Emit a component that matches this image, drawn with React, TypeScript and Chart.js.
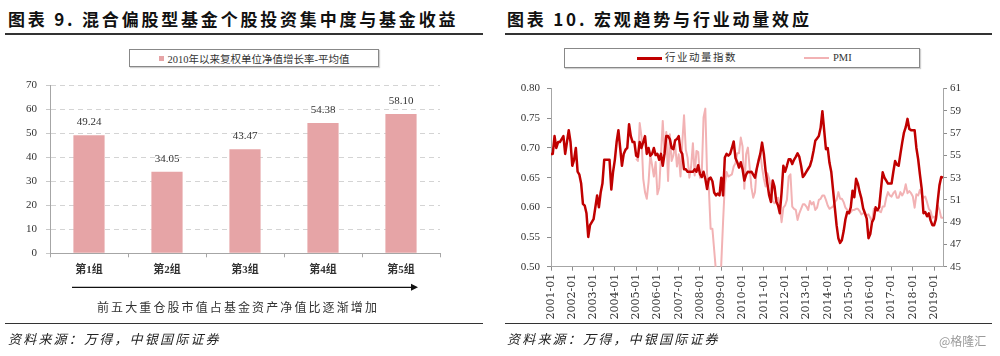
import React, { useEffect, useRef } from 'react';
import { Chart, registerables } from 'chart.js';

Chart.register(...registerables);

// ---------- Left chart data ----------
const groupLabels = ['第1组', '第2组', '第3组', '第4组', '第5组'];
const groupValues = [49.24, 34.05, 43.47, 54.38, 58.10];
const barSeriesName = '2010年以来复权单位净值增长率-平均值';
const barAxisMin = 0;
const barAxisMax = 70;
const barAxisStep = 10;

// ---------- Right chart data ----------
const startYear = 2001;
const endYear = 2019;
const lastMonthOfEndYear = 6;
const monthLabels: string[] = [];
for (let y = startYear; y <= endYear; y++) {
  const lastM = y === endYear ? lastMonthOfEndYear : 12;
  for (let m = 1; m <= lastM; m++) monthLabels.push(`${y}-${m < 10 ? '0' + m : m}`);
}

const momentumName = '行业动量指数';
const momentum = [
  0.69, 0.69, 0.72, 0.70, 0.71, 0.71, 0.715, 0.72, 0.69, 0.71, 0.73, 0.71,
  0.67, 0.68, 0.70, 0.66, 0.655, 0.64, 0.606, 0.603, 0.59, 0.55, 0.57, 0.575,
  0.58, 0.60, 0.62, 0.60, 0.625, 0.64, 0.68, 0.68, 0.68, 0.68, 0.63, 0.66,
  0.68, 0.71, 0.73, 0.70, 0.67, 0.69, 0.697, 0.70, 0.74, 0.72, 0.71, 0.71,
  0.687, 0.685, 0.71, 0.70, 0.71, 0.72, 0.69, 0.70, 0.687, 0.69, 0.70, 0.688,
  0.69, 0.68, 0.69, 0.67, 0.69, 0.72, 0.72, 0.715, 0.70, 0.698, 0.713, 0.715,
  0.72, 0.695, 0.69, 0.664, 0.664, 0.66, 0.66, 0.66, 0.66, 0.664, 0.66, 0.671,
  0.656, 0.651, 0.66, 0.648, 0.631, 0.648, 0.65, 0.644, 0.625, 0.62, 0.623, 0.62,
  0.65, 0.62, 0.684, 0.69, 0.687, 0.69, 0.70, 0.711, 0.683, 0.676, 0.667, 0.676,
  0.664, 0.645, 0.655, 0.66, 0.659, 0.66, 0.655, 0.65, 0.665, 0.678, 0.69, 0.709,
  0.69, 0.661, 0.64, 0.62, 0.609, 0.645, 0.635, 0.61, 0.603, 0.59, 0.625, 0.67,
  0.66, 0.67, 0.681, 0.681, 0.673, 0.68, 0.685, 0.691, 0.685, 0.67, 0.651, 0.655,
  0.66, 0.665, 0.67, 0.68, 0.695, 0.712, 0.716, 0.72, 0.734, 0.762, 0.73, 0.698,
  0.70, 0.675, 0.66, 0.63, 0.60, 0.57, 0.548, 0.54, 0.545, 0.56, 0.58, 0.592,
  0.59, 0.60, 0.628, 0.617, 0.648, 0.64, 0.626, 0.615, 0.598, 0.59, 0.581, 0.548,
  0.555, 0.575, 0.581, 0.60, 0.595, 0.60, 0.63, 0.659, 0.65, 0.645, 0.64, 0.64,
  0.64, 0.66, 0.678, 0.672, 0.67, 0.69, 0.709, 0.726, 0.735, 0.749, 0.732, 0.73,
  0.73, 0.73, 0.70, 0.681, 0.655, 0.631, 0.59, 0.592, 0.585, 0.59, 0.578, 0.57,
  0.57, 0.58, 0.61, 0.637, 0.651, 0.65,
];

const pmiName = 'PMI';
const pmiMissingMonths = 48; // series begins 2005-01
const pmi: (number | null)[] = [
  ...new Array(pmiMissingMonths).fill(null),
  54.7, 54.5, 57.9, 56.7, 52.9, 51.7, 51.1, 52.6, 55.1, 54.1, 53.1, 54.4,
  51.5, 52.1, 55.0, 58.1, 55.1, 57.1, 52.7, 56.9, 54.5, 55.0, 56.0, 54.0,
  55.1, 53.1, 56.1, 58.6, 55.5, 54.8, 53.0, 54.0, 56.1, 53.2, 55.4, 55.3,
  53.0, 53.4, 58.4, 59.2, 53.3, 52.0, 48.4, 48.4, 46.5, 44.6, 38.8, 41.2,
  45.3, 49.0, 52.4, 53.5, 53.1, 53.2, 53.3, 54.0, 54.3, 55.2, 55.2, 56.6,
  55.8, 52.0, 55.1, 55.7, 53.9, 52.1, 51.2, 51.7, 53.8, 54.7, 55.2, 53.9,
  52.9, 52.2, 53.4, 52.9, 52.0, 50.9, 50.7, 50.9, 51.2, 50.4, 49.0, 50.3,
  50.5, 51.0, 53.1, 53.3, 50.4, 50.2, 50.1, 49.2, 49.8, 50.2, 50.6, 50.6,
  50.4, 50.1, 50.9, 50.6, 50.8, 50.1, 50.3, 51.0, 51.1, 51.4, 51.4, 51.0,
  50.5, 50.2, 50.3, 50.4, 50.8, 51.0, 51.7, 51.1, 51.1, 50.8, 50.3, 50.1,
  49.8, 49.9, 50.1, 50.1, 50.2, 50.2, 50.0, 49.7, 49.8, 49.8, 49.6, 49.7,
  49.4, 49.0, 50.2, 50.1, 50.1, 50.0, 49.9, 50.4, 50.4, 51.2, 51.7, 51.4,
  51.3, 51.6, 51.8, 51.2, 51.2, 51.7, 51.4, 51.7, 52.4, 51.6, 51.8, 51.6,
  51.3, 50.3, 51.5, 51.4, 51.9, 51.5, 51.2, 51.3, 50.8, 50.2, 50.0, 49.4,
  49.5, 49.2, 50.5, 50.1, 49.4, 49.4,
];
const leftAxisMin = 0.5;
const leftAxisMax = 0.8;
const leftAxisStep = 0.05;
const rightAxisMin = 45;
const rightAxisMax = 61;
const rightAxisStep = 2;

// ---------- styles ----------
const BAR_COLOR = '#E6A4A6';
const RED = '#C00000';
const PINK = '#F2B2B4';
const SERIF = '"Liberation Serif", "Noto Sans CJK SC", serif';
const CJK = '"Noto Sans CJK SC", sans-serif';
const AXIS_GREY = '#a6a6a6';

const barValueLabels = {
  id: 'barValueLabels',
  afterDatasetsDraw(chart: any) {
    const { ctx } = chart;
    const meta = chart.getDatasetMeta(0);
    ctx.save();
    ctx.font = `11px ${SERIF}`;
    ctx.fillStyle = '#333';
    ctx.textAlign = 'center';
    ctx.textBaseline = 'alphabetic';
    meta.data.forEach((el: any, i: number) => {
      ctx.fillText(groupValues[i].toFixed(2), el.x, el.y - 10);
    });
    ctx.restore();
  },
};

function BarChart() {
  const ref = useRef<HTMLCanvasElement>(null);
  useEffect(() => {
    const chart = new Chart(ref.current!, {
      type: 'bar',
      data: {
        labels: groupLabels,
        datasets: [
          {
            label: barSeriesName,
            data: groupValues,
            backgroundColor: BAR_COLOR,
            borderWidth: 0,
            categoryPercentage: 0.8,
            barPercentage: 0.5,
          },
        ],
      },
      options: {
        responsive: false,
        animation: false,
        events: [],
        layout: { padding: { top: 11.7, right: 20, left: 0, bottom: 0 } },
        plugins: { legend: { display: false }, tooltip: { enabled: false } },
        scales: {
          x: {
            grid: { drawOnChartArea: false, drawTicks: true, tickLength: 4, color: AXIS_GREY },
            border: { display: true, color: AXIS_GREY },
            ticks: { font: { family: SERIF, size: 11, weight: 'bold' }, color: '#333', padding: 6 },
            afterFit: (s: any) => { s.height = 46.7; },
          },
          y: {
            min: barAxisMin,
            max: barAxisMax,
            ticks: { stepSize: barAxisStep, font: { family: SERIF, size: 11 }, color: '#333', padding: 9 },
            grid: { color: '#d4d4d4', tickLength: 4, tickColor: '#c8c8c8' },
            border: { display: true, color: AXIS_GREY, dash: [5, 4] },
            afterFit: (s: any) => { s.width = 50; },
          },
        },
      },
      plugins: [barValueLabels],
    });
    return () => chart.destroy();
  }, []);
  return <canvas ref={ref} width={460} height={230} style={{ position: 'absolute', left: 0, top: 70 }} />;
}

function LineChart() {
  const ref = useRef<HTMLCanvasElement>(null);
  useEffect(() => {
    const chart = new Chart(ref.current!, {
      type: 'line',
      data: {
        labels: monthLabels,
        datasets: [
          {
            label: momentumName,
            data: momentum,
            borderColor: RED,
            borderWidth: 2.5,
            pointRadius: 0,
            tension: 0,
            yAxisID: 'y',
            borderJoinStyle: 'round',
          },
          {
            label: pmiName,
            data: pmi,
            borderColor: PINK,
            borderWidth: 2,
            pointRadius: 0,
            tension: 0,
            yAxisID: 'y1',
            clip: 0,
            borderJoinStyle: 'round',
          },
        ],
      },
      options: {
        responsive: false,
        animation: false,
        events: [],
        layout: { padding: { top: 11.7, right: 0, left: 0, bottom: 0 } },
        plugins: { legend: { display: false }, tooltip: { enabled: false } },
        scales: {
          x: {
            type: 'category',
            offset: false,
            grid: { drawOnChartArea: false, drawTicks: true, tickLength: 4, color: '#8c8c8c' },
            border: { display: true, color: AXIS_GREY },
            ticks: {
              autoSkip: false,
              minRotation: 90,
              maxRotation: 90,
              padding: 3,
              font: { family: '"DejaVu Serif", serif', size: 11 },
              color: '#333',
              callback: function (this: any, v: any, i: number) {
                return i % 12 === 0 ? monthLabels[i] : null;
              },
            },
            afterFit: (s: any) => { s.height = 68.3; },
          },
          y: {
            position: 'left',
            min: leftAxisMin,
            max: leftAxisMax,
            ticks: {
              stepSize: leftAxisStep,
              font: { family: SERIF, size: 11 },
              color: '#333',
              padding: 7,
              callback: (v: any) => Number(v).toFixed(2),
            },
            grid: { drawOnChartArea: false, drawTicks: true, tickLength: 4, color: '#8c8c8c' },
            border: { display: true, color: AXIS_GREY },
            afterFit: (s: any) => { s.width = 51; },
          },
          y1: {
            position: 'right',
            min: rightAxisMin,
            max: rightAxisMax,
            ticks: { stepSize: rightAxisStep, font: { family: SERIF, size: 11 }, color: '#333', padding: 3 },
            grid: { drawOnChartArea: false, drawTicks: true, tickLength: 4, color: '#8c8c8c' },
            border: { display: true, color: AXIS_GREY },
            afterFit: (s: any) => { s.width = 57; },
          },
        },
      },
    });
    return () => chart.destroy();
  }, []);
  return <canvas ref={ref} width={500} height={260} style={{ position: 'absolute', left: 500, top: 75 }} />;
}

const abs = (o: React.CSSProperties): React.CSSProperties => ({ position: 'absolute', ...o });

export default function App() {
  const titleStyle: React.CSSProperties = {
    fontFamily: CJK,
    fontWeight: 'bold',
    fontSize: 17,
    lineHeight: '20px',
    letterSpacing: '2.8px',
    color: '#111',
    whiteSpace: 'nowrap',
  };
  const sourceStyle: React.CSSProperties = {
    fontFamily: CJK,
    fontStyle: 'italic',
    fontSize: 13,
    lineHeight: '16px',
    letterSpacing: '2.2px',
    color: '#222',
    whiteSpace: 'nowrap',
  };
  const rule = (left: number, top: number, width: number): React.CSSProperties =>
    abs({ left, top, width, height: 1.5, background: '#333' });
  return (
    <div style={{ position: 'fixed', left: 0, top: 0, width: 1000, height: 356, background: '#fff', overflow: 'hidden' }}>
      {/* Left panel */}
      <div style={abs({ ...titleStyle, left: 8, top: 9 })}>图表 9. 混合偏股型基金个股投资集中度与基金收益</div>
      <div style={rule(5, 33, 478)} />
      <div
        style={abs({
          left: 129,
          top: 49,
          width: 248,
          height: 16,
          border: '1px solid #888',
          boxShadow: '1px 1px 1px #d0d0d0',
          display: 'flex',
          alignItems: 'center',
          justifyContent: 'center',
          gap: 4,
          fontFamily: SERIF,
          fontSize: 10.5,
          color: '#333',
          whiteSpace: 'nowrap',
        })}
      >
        <span style={{ width: 5, height: 5, background: BAR_COLOR, display: 'inline-block' }} />
        <span>{barSeriesName}</span>
      </div>
      <BarChart />
      <svg style={abs({ left: 0, top: 280 })} width={480} height={16}>
        <line x1={72} y1={7.3} x2={413} y2={7.3} stroke="#111" strokeWidth={1.3} />
        <polygon points="411,3.8 418,7.3 411,10.8" fill="#111" />
      </svg>
      <div
        style={abs({
          left: 0,
          width: 476,
          top: 299,
          textAlign: 'center',
          fontFamily: CJK,
          fontSize: 12,
          lineHeight: '16px',
          letterSpacing: '2.1px',
          color: '#333',
        })}
      >
        前五大重仓股市值占基金资产净值比逐渐增加
      </div>
      <div style={rule(5, 322.5, 478)} />
      <div style={abs({ ...sourceStyle, left: 8, top: 331 })}>资料来源：万得，中银国际证券</div>

      {/* Right panel */}
      <div style={abs({ ...titleStyle, left: 507, top: 9 })}>图表 10. 宏观趋势与行业动量效应</div>
      <div style={rule(505, 33, 487)} />
      <div
        style={abs({
          left: 564,
          top: 48,
          width: 354,
          height: 18,
          border: '1px solid #888',
          boxShadow: '1px 1px 1px #d0d0d0',
          fontFamily: SERIF,
          fontSize: 10.5,
          color: '#333',
          whiteSpace: 'nowrap',
        })}
      >
        <span style={abs({ left: 72, top: 8, width: 25, height: 2.5, background: RED })} />
        <span style={abs({ left: 100, top: 1, letterSpacing: '1.5px', lineHeight: '16px' })}>{momentumName}</span>
        <span style={abs({ left: 239, top: 8, width: 25, height: 2, background: PINK })} />
        <span style={abs({ left: 268, top: 1, lineHeight: '16px' })}>{pmiName}</span>
      </div>
      <LineChart />
      <div style={rule(505, 322.5, 487)} />
      <div style={abs({ ...sourceStyle, left: 507, top: 331 })}>资料来源：万得，中银国际证券</div>
      <div style={abs({ left: 939, top: 332, fontFamily: CJK, fontSize: 12, color: '#9a9a9a', whiteSpace: 'nowrap' })}>
        @格隆汇
      </div>
    </div>
  );
}
